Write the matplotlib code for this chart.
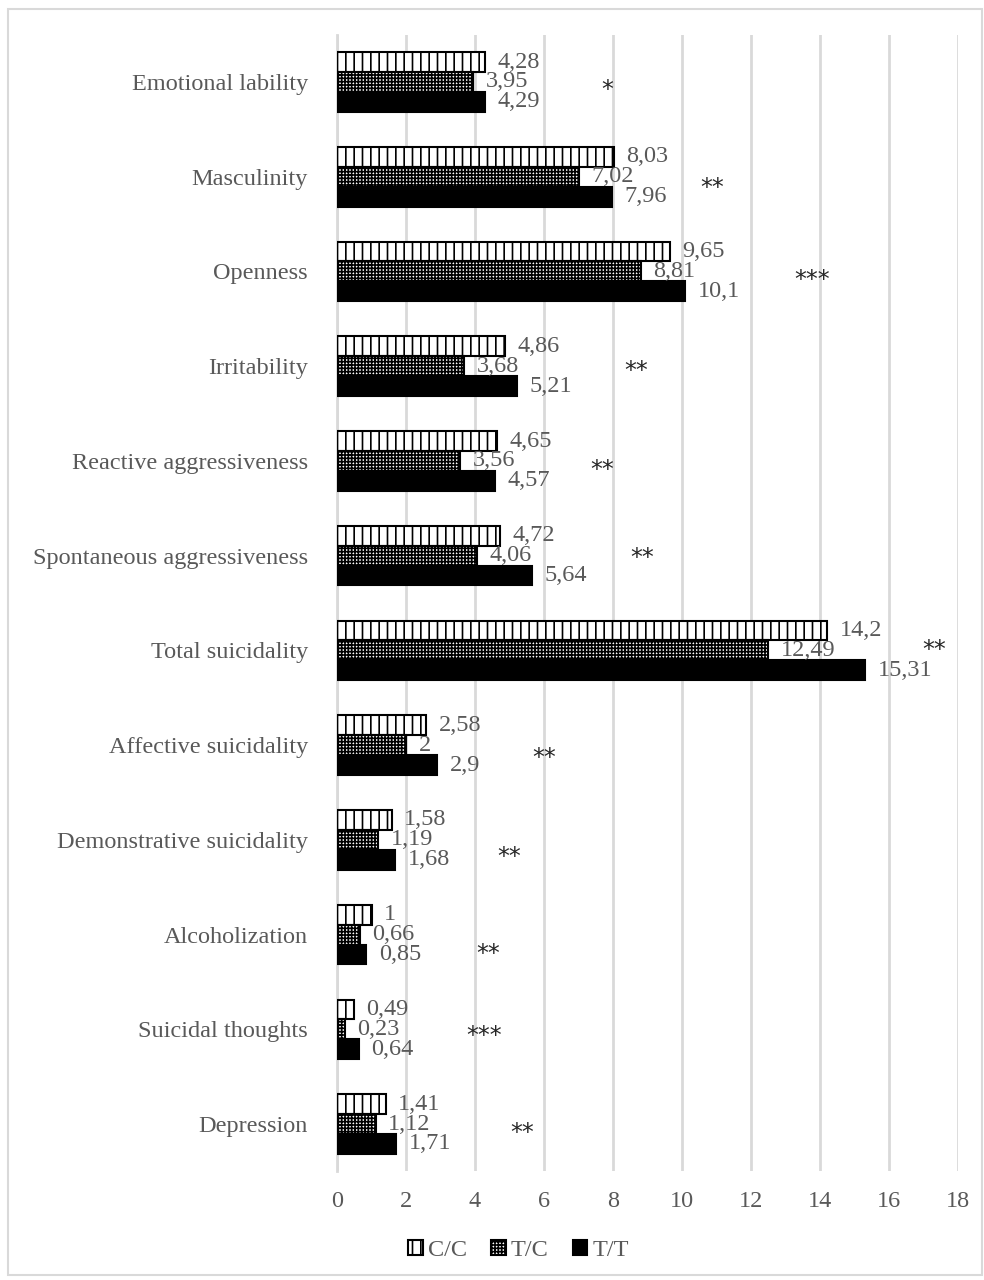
import numpy as np
import matplotlib
matplotlib.use('Agg')
import matplotlib.pyplot as plt
from matplotlib.patches import Patch, Rectangle

plt.rcParams['font.family'] = ['Liberation Serif', 'DejaVu Serif']
plt.rcParams['hatch.linewidth'] = 1.2

# Scale scores by genotype group (top to bottom on the chart)
categories = ['Emotional lability', 'Masculinity', 'Openness', 'Irritability',
              'Reactive aggressiveness', 'Spontaneous aggressiveness',
              'Total suicidality', 'Affective suicidality',
              'Demonstrative suicidality', 'Alcoholization',
              'Suicidal thoughts', 'Depression']
cc_vals = [4.28, 8.03, 9.65, 4.86, 4.65, 4.72, 14.2, 2.58, 1.58, 1.0, 0.49, 1.41]
tc_vals = [3.95, 7.02, 8.81, 3.68, 3.56, 4.06, 12.49, 2.0, 1.19, 0.66, 0.23, 1.12]
tt_vals = [4.29, 7.96, 10.1, 5.21, 4.57, 5.64, 15.31, 2.9, 1.68, 0.85, 0.64, 1.71]
series_names = ['C/C', 'T/C', 'T/T']

# significance marks and where they sit (x in data units, y shift in category units)
signif = ['*', '**', '***', '**', '**', '**', '**', '**', '**', '**', '***', '**']
signif_x = [7.83, 10.87, 13.77, 8.67, 7.68, 8.84, 17.3, 6.0, 4.99, 4.38, 4.26, 5.36]
signif_dy = [0, 0.03, 0, -0.04, 0.01, -0.06, -0.09, 0.05, 0.09, 0.11, -0.02, 0]

txt_gray = '#595959'
grid_gray = '#d9d9d9'

fig = plt.figure(figsize=(9.84, 12.8), dpi=100)
ax = fig.add_axes([0.3425, 0.0848, 0.6311, 0.8882])

n = len(categories)
y = np.arange(n)
h = 0.21

styles = [dict(facecolor='white', hatch='||', edgecolor='black'),
          dict(facecolor='white', hatch='+++++', edgecolor='black'),
          dict(facecolor='black', hatch=None, edgecolor='black')]
offsets = [-h, 0, h]
series = [cc_vals, tc_vals, tt_vals]

for vals, off, st in zip(series, offsets, styles):
    ax.barh(y + off, vals, height=h, linewidth=1.5, zorder=3, **st)
    for yy, v in zip(y + off, vals):
        lab = ('%g' % v).replace('.', ',')
        ax.annotate(lab, (v, yy), xytext=(9, 0), textcoords='offset points',
                    ha='left', va='center', fontsize=17.5, color=txt_gray, zorder=4)

# asterisks sit high in the font, so nudge them down to the line centre
for yy, s, sx, dy in zip(y, signif, signif_x, signif_dy):
    ax.text(sx, yy + dy + 0.09, s, ha='center', va='center',
            fontsize=17, color='#262626', family='DejaVu Sans', zorder=5)

ax.set_xlim(0, 18)
ax.set_ylim(n - 0.5, -0.5)
ax.set_xticks(np.arange(0, 19, 2))
ax.set_yticks(y)
ax.set_yticklabels(categories)
ax.tick_params(axis='both', length=0, labelsize=17.5, labelcolor=txt_gray)
ax.tick_params(axis='x', pad=14)
ax.tick_params(axis='y', pad=21)
ax.grid(axis='x', color=grid_gray, linewidth=2, zorder=0)
ax.set_axisbelow(True)
for side in ['top', 'right', 'bottom']:
    ax.spines[side].set_visible(False)
ax.spines['left'].set_color(grid_gray)
ax.spines['left'].set_linewidth(2)

handles = [Patch(label=nm, linewidth=1.5, **st) for nm, st in zip(series_names, styles)]
fig.legend(handles=handles, loc='center', bbox_to_anchor=(0.527, 0.023), ncol=3,
           frameon=False, fontsize=17.5, labelcolor=txt_gray, handlelength=0.6,
           handleheight=0.6, handletextpad=0.2, columnspacing=1.0)

# light frame around the whole chart
fig.patches.append(Rectangle((8 / 984, 5 / 1280), 974 / 984, 1266 / 1280,
                             transform=fig.transFigure, fill=False,
                             edgecolor=grid_gray, linewidth=1.5))

fig.savefig('out.png', dpi=100, facecolor='white')
